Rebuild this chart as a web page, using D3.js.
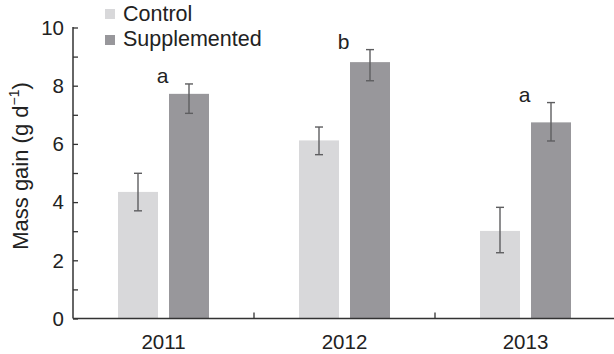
<!DOCTYPE html>
<html>
<head>
<meta charset="utf-8">
<script src="https://cdn.jsdelivr.net/npm/d3@7"></script>
<style>
  html, body { margin: 0; padding: 0; background: #fff; }
  svg { display: block; }
  text { font-family: "Liberation Sans", Arial, Helvetica, sans-serif; fill: #222; }
</style>
</head>
<body>
<svg id="chart" width="614" height="354"></svg>
<script>
// Mass gain per year, control vs supplemented (mean with error bounds)
const years = ["2011", "2012", "2013"];
const series = ["Control", "Supplemented"];
const controlMean  = [4.35, 6.12, 3.01];
const controlUpper = [4.99, 6.58, 3.82];
const controlLower = [3.70, 5.63, 2.26];
const suppMean  = [7.72, 8.81, 6.74];
const suppUpper = [8.06, 9.24, 7.42];
const suppLower = [7.05, 8.17, 6.10];
const sigLetters = ["a", "b", "a"];
const yMajorTicks = [0, 2, 4, 6, 8, 10];
const yMinorTicks = [1, 3, 5, 7, 9];
const yLabel = "Mass gain (g d";

const colors = { Control: "#d8d8da", Supplemented: "#98979b" };

const rows = [];
years.forEach((yr, i) => {
  rows.push({ year: yr, s: "Control", v: controlMean[i], hi: controlUpper[i], lo: controlLower[i] });
  rows.push({ year: yr, s: "Supplemented", v: suppMean[i], hi: suppUpper[i], lo: suppLower[i] });
});

const svg = d3.select("#chart");
const mLeft = 73, mRight = 616, mTop = 27.5, mBottom = 318.5;

const x = d3.scaleBand().domain(years).range([mLeft, mRight]).paddingInner(0).paddingOuter(0);
const step = x.bandwidth();
// inner band: 40px bars, 11px gap, centred in each group
const barW = 40, gap = 11;
const pin = gap / (barW + gap);
const pout = ((step / (barW + gap)) - (series.length - pin)) / 2;
const xs = d3.scaleBand().domain(series).range([0, step]).paddingInner(pin).paddingOuter(pout);
const y = d3.scaleLinear().domain([0, 10]).range([mBottom, mTop]);

// bars
svg.append("g").selectAll("rect").data(rows).join("rect")
  .attr("x", d => x(d.year) + xs(d.s))
  .attr("y", d => y(d.v))
  .attr("width", xs.bandwidth())
  .attr("height", d => y(0) - y(d.v))
  .attr("fill", d => colors[d.s]);

// error bars
const eb = svg.append("g").attr("stroke", "#5e5e60").attr("stroke-width", 1.4).attr("fill", "none");
rows.forEach(d => {
  const cx = x(d.year) + xs(d.s) + xs.bandwidth() / 2;
  eb.append("line").attr("x1", cx).attr("x2", cx).attr("y1", y(d.hi)).attr("y2", y(d.lo));
  eb.append("line").attr("x1", cx - 4).attr("x2", cx + 4).attr("y1", y(d.hi)).attr("y2", y(d.hi));
  eb.append("line").attr("x1", cx - 4).attr("x2", cx + 4).attr("y1", y(d.lo)).attr("y2", y(d.lo));
});

// significance letters above each group
svg.append("g").selectAll("text").data(years).join("text")
  .attr("x", (d, i) => x(d) + step / 2 - 1)
  .attr("y", (d, i) => y(suppUpper[i]) - 1)
  .attr("text-anchor", "middle")
  .attr("font-size", 21)
  .text((d, i) => sigLetters[i]);

// y axis (ticks point inward)
const yAxis = d3.axisRight(y).tickValues(yMajorTicks).tickSize(5).tickFormat("");
const gy = svg.append("g").attr("transform", `translate(${mLeft},0)`).call(yAxis);
gy.select(".domain").remove();
gy.selectAll(".tick line").attr("stroke", "#333").attr("stroke-width", 1.3);
const yMinor = d3.axisRight(y).tickValues(yMinorTicks).tickSize(5).tickFormat("");
const gym = svg.append("g").attr("transform", `translate(${mLeft},0)`).call(yMinor);
gym.select(".domain").remove();
gym.selectAll(".tick line").attr("stroke", "#333").attr("stroke-width", 1.3);
svg.append("g").selectAll("text").data(yMajorTicks).join("text")
  .attr("x", mLeft - 9).attr("y", d => y(d) + 7.3)
  .attr("text-anchor", "end").attr("font-size", 20.5)
  .text(d => d);
svg.append("line").attr("x1", mLeft).attr("x2", mLeft).attr("y1", mTop - 0.5).attr("y2", mBottom)
  .attr("stroke", "#333").attr("stroke-width", 1.5);

// x axis with group separators
svg.append("line").attr("x1", mLeft).attr("x2", 614).attr("y1", mBottom).attr("y2", mBottom)
  .attr("stroke", "#333").attr("stroke-width", 1.5);
svg.append("g").selectAll("line").data(years.slice(1)).join("line")
  .attr("x1", d => x(d)).attr("x2", d => x(d))
  .attr("y1", mBottom).attr("y2", mBottom - 6)
  .attr("stroke", "#333").attr("stroke-width", 1.3);
svg.append("g").selectAll("text").data(years).join("text")
  .attr("x", d => x(d) + step / 2).attr("y", 348.5)
  .attr("text-anchor", "middle").attr("font-size", 20.5)
  .text(d => d);

// y axis title
const yt = svg.append("text")
  .attr("transform", "translate(28,166) rotate(-90)")
  .attr("text-anchor", "middle").attr("font-size", 22);
yt.append("tspan").text(yLabel);
yt.append("tspan").attr("font-size", 14).attr("dy", -9).text("\u22121");
yt.append("tspan").attr("dy", 9).text(")");

// legend
const lg = svg.append("g");
series.forEach((s, i) => {
  lg.append("rect").attr("x", 105).attr("y", 9 + i * 26).attr("width", 10).attr("height", 10)
    .attr("fill", colors[s]);
  lg.append("text").attr("x", 123).attr("y", 21 + i * 25).attr("font-size", 21.5).text(s);
});
</script>
</body>
</html>
